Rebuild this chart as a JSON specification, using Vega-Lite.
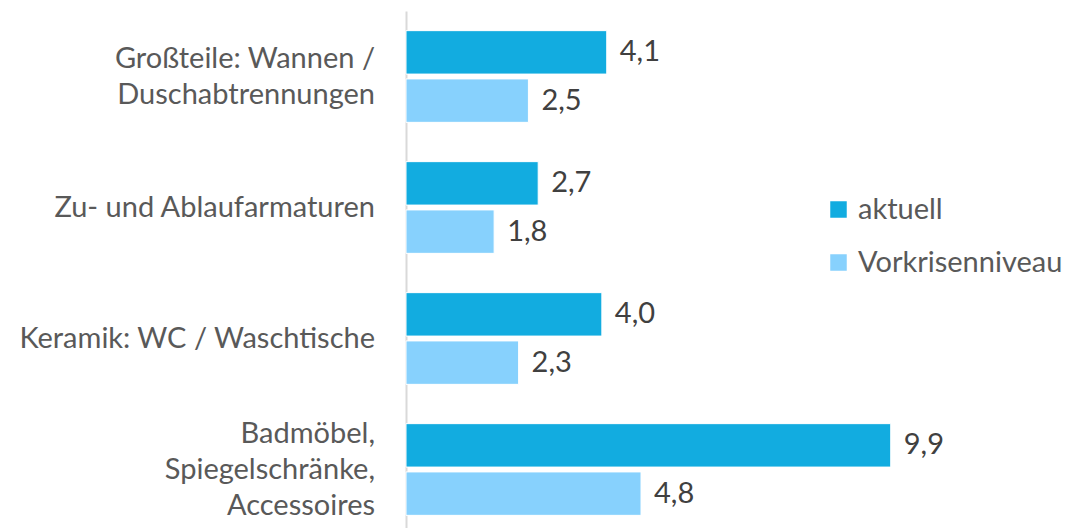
{
  "$schema": "https://vega.github.io/schema/vega-lite/v6.json",
  "width": 661,
  "height": 524,
  "autosize": {"type": "none"},
  "padding": {"left": 406, "top": 11, "right": 0, "bottom": 0},
  "background": "white",
  "config": {
    "view": {"stroke": null},
    "font": "Lato",
    "locale": {"number": {"decimal": ",", "thousands": ".", "grouping": [3], "currency": ["", " €"]}}
  },
  "data": {
    "values": [
      {"kategorie": "Großteile: Wannen /\nDuschabtrennungen", "serie": "aktuell", "wert": 4.1},
      {"kategorie": "Großteile: Wannen /\nDuschabtrennungen", "serie": "Vorkrisenniveau", "wert": 2.5},
      {"kategorie": "Zu- und Ablaufarmaturen", "serie": "aktuell", "wert": 2.7},
      {"kategorie": "Zu- und Ablaufarmaturen", "serie": "Vorkrisenniveau", "wert": 1.8},
      {"kategorie": "Keramik: WC / Waschtische", "serie": "aktuell", "wert": 4.0},
      {"kategorie": "Keramik: WC / Waschtische", "serie": "Vorkrisenniveau", "wert": 2.3},
      {"kategorie": "Badmöbel,\nSpiegelschränke,\nAccessoires", "serie": "aktuell", "wert": 9.9},
      {"kategorie": "Badmöbel,\nSpiegelschränke,\nAccessoires", "serie": "Vorkrisenniveau", "wert": 4.8}
    ]
  },
  "encoding": {
    "y": {
      "field": "kategorie",
      "type": "nominal",
      "sort": null,
      "scale": {"paddingInner": 0.3, "paddingOuter": 0.15},
      "axis": {
        "title": null,
        "ticks": false,
        "labels": false,
        "domainColor": "#D9D9D9",
        "domainWidth": 2
      }
    },
    "x": {
      "field": "wert",
      "type": "quantitative",
      "scale": {"domain": [0, 13.5], "nice": false},
      "axis": null
    }
  },
  "layer": [
    {
      "mark": {"type": "bar", "stroke": "white", "strokeWidth": 1},
      "encoding": {
        "yOffset": {
          "field": "serie",
          "type": "nominal",
          "sort": ["aktuell", "Vorkrisenniveau"],
          "scale": {"paddingInner": 0.1, "paddingOuter": 0}
        },
        "color": {
          "field": "serie",
          "type": "nominal",
          "sort": ["aktuell", "Vorkrisenniveau"],
          "scale": {"domain": ["aktuell", "Vorkrisenniveau"], "range": ["#12ACE0", "#87D1FD"]},
          "legend": {
            "title": null,
            "orient": "none",
            "legendX": 418,
            "legendY": 184,
            "symbolType": "square",
            "symbolSize": 272,
            "symbolStrokeWidth": 0,
            "labelFontSize": 29,
            "labelColor": "#595959",
            "labelOffset": 5,
            "labelLimit": 300,
            "rowPadding": 23
          }
        }
      }
    },
    {
      "mark": {"type": "text", "align": "left", "baseline": "middle", "dx": 13, "fontSize": 29, "color": "#404040"},
      "encoding": {
        "yOffset": {
          "field": "serie",
          "type": "nominal",
          "sort": ["aktuell", "Vorkrisenniveau"],
          "scale": {"paddingInner": 0.1, "paddingOuter": 0}
        },
        "text": {"field": "wert", "type": "quantitative", "format": ".1f"}
      }
    },
    {
      "transform": [{"filter": "datum.serie === 'aktuell'"}],
      "mark": {
        "type": "text",
        "align": "right",
        "baseline": "middle",
        "dx": -31,
        "dy": {"expr": "-(length(split(datum.kategorie, '\\n')) - 1) * 18"},
        "fontSize": 29,
        "color": "#595959",
        "lineBreak": "\n",
        "lineHeight": 36
      },
      "encoding": {
        "x": {"datum": 0},
        "text": {"field": "kategorie", "type": "nominal"}
      }
    }
  ]
}
